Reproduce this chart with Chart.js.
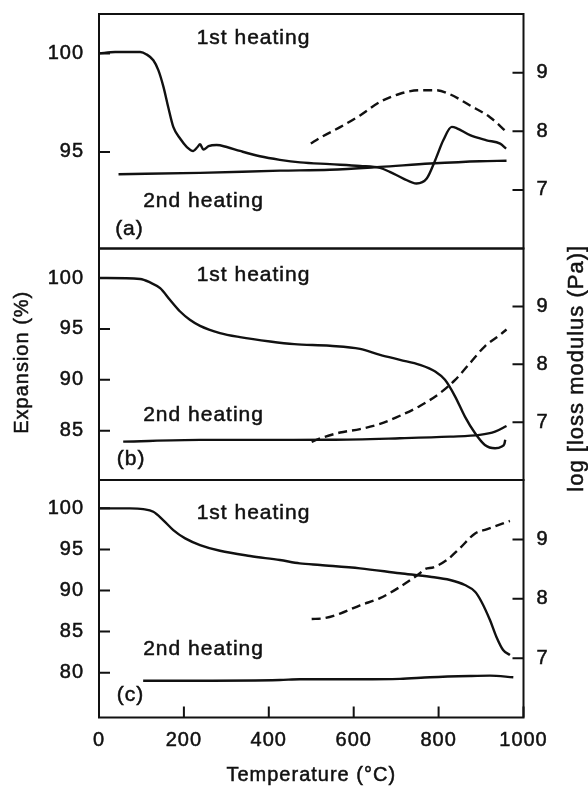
<!DOCTYPE html>
<html><head><meta charset="utf-8">
<script src="https://cdn.jsdelivr.net/npm/chart.js@4.4.1/dist/chart.umd.min.js"></script>
<style>
html,body{margin:0;padding:0;background:#fff;}
#wrap{position:relative;width:588px;height:787px;overflow:hidden;background:#fff;}
canvas{position:absolute;left:0;top:0;}
</style></head><body>
<div id="wrap">
<canvas id="ca" width="588" height="787"></canvas>
<canvas id="cb" width="588" height="787"></canvas>
<canvas id="cc" width="588" height="787"></canvas>
</div>
<script>
// ---- tick labels ----
const xTicks = [0, 200, 400, 600, 800, 1000];
const rightTicks = [7, 8, 9];
const leftTicksA = [95, 100];
const leftTicksB = [85, 90, 95, 100];
const leftTicksC = [80, 85, 90, 95, 100];

// ---- panel (a) ----
const tA1 = [0,38,97,112,128,140,152,163,175,191,207,222,232,238,246,258,277,301,332,379,426,474,544,615,662,685,717,748,772,792,811,831,843,874,913,945,959];
const eA1 = [100.0,100.07,100.07,99.95,99.65,99.14,98.29,97.28,96.27,95.68,95.25,95.05,95.25,95.39,95.12,95.29,95.35,95.25,95.05,94.78,94.6,94.47,94.38,94.29,94.19,93.99,93.65,93.4,93.65,94.58,95.59,96.27,96.2,95.85,95.59,95.42,95.17];
const tA2 = [46,238,427,544,662,780,897,960];
const eA2 = [93.87,93.94,94.05,94.1,94.24,94.41,94.53,94.55];
const tAL = [499,521,568,615,662,709,756,795,827,874,921,960];
const mA  = [7.79,7.89,8.07,8.27,8.50,8.64,8.70,8.70,8.63,8.44,8.24,7.99];

// ---- panel (b) ----
const tB1 = [0,97,120,144,167,191,214,238,285,332,403,460,544,615,662,709,756,792,815,839,862,886,909,933,949,955,957];
const eB1 = [100.0,99.9,99.57,99.0,97.86,96.71,95.9,95.3,94.59,94.19,93.76,93.5,93.34,93.04,92.45,91.96,91.47,90.81,89.99,88.35,86.38,84.74,83.59,83.27,83.45,83.7,84.1];
const tB2 = [57,238,426,544,709,827,897,933,960];
const eB2 = [83.92,84.09,84.09,84.1,84.25,84.41,84.58,84.9,85.46];
const tBL = [501,521,568,615,662,709,756,803,839,874,909,945,960];
const mB  = [6.66,6.72,6.82,6.88,6.97,7.11,7.28,7.50,7.73,8.02,8.31,8.51,8.60];

// ---- panel (c) ----
const tC1 = [0,73,104,128,151,175,203,238,285,356,426,473,521,615,709,780,827,862,886,901,921,936,952,968];
const eC1 = [100,100,99.91,99.59,98.58,97.36,96.35,95.54,94.84,94.2,93.71,93.3,93.1,92.7,92.1,91.68,91.28,90.67,89.85,88.64,86.41,84.38,82.76,82.15];
const tC2 = [104,238,426,473,615,709,780,874,921,976];
const eC2 = [79.03,79.03,79.11,79.2,79.2,79.25,79.45,79.6,79.64,79.44];
const tCL = [501,528,568,615,662,709,756,768,788,819,850,886,913,968];
const mC  = [7.66,7.67,7.75,7.89,8.01,8.20,8.43,8.50,8.53,8.65,8.85,9.10,9.17,9.31];

const INK = '#111';
const FAM = '"Liberation Sans", Arial, Helvetica, sans-serif';
const zip = (xs, ys) => xs.map((x, i) => ({x: x, y: ys[i]}));

function inkText(ctx, txt, x, y) {
  ctx.fillText(txt, x, y);
  ctx.strokeText(txt, x, y);
}

function makePanel(id, p) {
  const base = {borderColor: INK, borderWidth: 2.4, pointRadius: 0, fill: false, cubicInterpolationMode: 'monotone'};
  const datasets = [
    Object.assign({}, base, {data: zip(p.t1, p.e1), yAxisID: 'yL'}),
    Object.assign({}, base, {data: zip(p.t2, p.e2), yAxisID: 'yL'}),
    Object.assign({}, base, {data: zip(p.tl, p.m), yAxisID: 'yR', borderDash: [9, 5]})
  ];
  const tickFont = {family: FAM, size: 20};
  const tickOpts = {font: tickFont, color: INK, textStrokeColor: INK, textStrokeWidth: 0.5};
  const framePlugin = {
    id: 'frame' + id,
    beforeLayout(chart) { chart.ctx.letterSpacing = '1px'; },
    beforeDraw(chart) { chart.ctx.letterSpacing = '1px'; },
    afterDraw(chart) {
      const ctx = chart.ctx, a = chart.chartArea, s = chart.scales;
      ctx.save();
      ctx.strokeStyle = INK; ctx.lineWidth = 2;
      ctx.strokeRect(a.left, a.top, a.right - a.left, a.bottom - a.top);
      ctx.beginPath();
      s.yL.ticks.forEach(t => { const y = s.yL.getPixelForValue(t.value); ctx.moveTo(a.left, y); ctx.lineTo(a.left + 11, y); });
      s.yR.ticks.forEach(t => { const y = s.yR.getPixelForValue(t.value); ctx.moveTo(a.right, y); ctx.lineTo(a.right - 11, y); });
      if (p.showX) s.x.ticks.forEach(t => { const x = s.x.getPixelForValue(t.value); ctx.moveTo(x, a.bottom); ctx.lineTo(x, a.bottom - 11); });
      ctx.stroke();
      ctx.fillStyle = INK;
      ctx.lineWidth = 0.5;
      ctx.font = '21px ' + FAM;
      ctx.letterSpacing = '1px';
      ctx.textAlign = 'left'; ctx.textBaseline = 'middle';
      p.notes.forEach(n => inkText(ctx, n[0], s.x.getPixelForValue(n[1]), s.yL.getPixelForValue(n[2])));
      ctx.textAlign = 'center';
      if (p.showX) {
        ctx.font = '20px ' + FAM;
        inkText(ctx, 'Temperature (°C)', (a.left + a.right) / 2, s.x.bottom - 12);
      }
      if (p.titles) {
        const mid = (a.top + a.bottom) / 2;
        ctx.save();
        ctx.font = '20px ' + FAM;
        ctx.translate(s.yL.left + 22, mid - 2);
        ctx.rotate(-Math.PI / 2);
        inkText(ctx, 'Expansion (%)', 0, 0);
        ctx.restore();
        ctx.save();
        ctx.font = '22px ' + FAM;
        ctx.translate(s.yR.right - 11, mid + 4);
        ctx.rotate(-Math.PI / 2);
        inkText(ctx, 'log [loss modulus (Pa)]', 0, 0);
        ctx.restore();
      }
      ctx.restore();
    }
  };
  return new Chart(document.getElementById(id), {
    type: 'line',
    data: {datasets: datasets},
    options: {
      responsive: false, animation: false, devicePixelRatio: 1,
      layout: {padding: {left: 0, right: 0, top: p.top, bottom: p.bottom}},
      plugins: {legend: {display: false}, tooltip: {enabled: false}},
      scales: {
        x: {
          type: 'linear', min: 0, max: 1000, display: p.showX,
          afterBuildTicks: sc => { sc.ticks = xTicks.map(v => ({value: v})); },
          grid: {display: false, drawTicks: false}, border: {display: false},
          ticks: Object.assign({padding: 10.5, maxRotation: 0, autoSkip: false, callback: v => String(v)}, tickOpts),
          title: {display: false},
          afterFit: sc => { sc.height = p.showX ? 69.5 : 0; sc.paddingLeft = 0; sc.paddingRight = 0; }
        },
        yL: {
          type: 'linear', position: 'left', min: p.lmin, max: p.lmax,
          afterBuildTicks: sc => { sc.ticks = p.lticks.map(v => ({value: v})); },
          grid: {display: false, drawTicks: false}, border: {display: false},
          ticks: Object.assign({padding: 15}, tickOpts),
          title: {display: false},
          afterFit: sc => { sc.width = 99; sc.paddingTop = 0; sc.paddingBottom = 0; }
        },
        yR: {
          type: 'linear', position: 'right', min: 6, max: 10,
          afterBuildTicks: sc => { sc.ticks = rightTicks.map(v => ({value: v})); },
          grid: {display: false, drawTicks: false}, border: {display: false},
          ticks: Object.assign({padding: 13}, tickOpts),
          title: {display: false},
          afterFit: sc => { sc.width = 64.5; sc.paddingTop = 0; sc.paddingBottom = 0; }
        }
      }
    },
    plugins: [framePlugin]
  });
}

makePanel('ca', {t1: tA1, e1: eA1, t2: tA2, e2: eA2, tl: tAL, m: mA,
  lmin: 90.1, lmax: 102.0, lticks: leftTicksA, top: 14, bottom: 538.5, showX: false, titles: false,
  notes: [['1st heating', 230, 100.79], ['2nd heating', 104, 92.5], ['(a)', 38, 91.08]]});
makePanel('cb', {t1: tB1, e1: eB1, t2: tB2, e2: eB2, tl: tBL, m: mB,
  lmin: 80.15, lmax: 102.9, lticks: leftTicksB, top: 248.5, bottom: 307, showX: false, titles: true,
  notes: [['1st heating', 230, 100.23], ['2nd heating', 104, 86.5], ['(b)', 42, 82.2]]});
makePanel('cc', {t1: tC1, e1: eC1, t2: tC2, e2: eC2, tl: tCL, m: mC,
  lmin: 74.55, lmax: 103.45, lticks: leftTicksC, top: 480, bottom: 0, showX: true, titles: false,
  notes: [['1st heating', 230, 99.43], ['2nd heating', 104, 82.88], ['(c)', 42, 77.3]]});
</script>
</body></html>
